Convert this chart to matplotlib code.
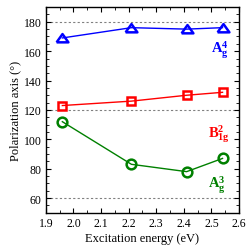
import matplotlib
matplotlib.use('Agg')
import matplotlib.pyplot as plt
from matplotlib.ticker import MultipleLocator

plt.rcParams['font.family'] = ['Liberation Serif', 'DejaVu Serif']
plt.rcParams['mathtext.fontset'] = 'custom'
plt.rcParams['mathtext.rm'] = 'Liberation Serif'
plt.rcParams['mathtext.bf'] = 'Liberation Serif:bold'

# excitation energies (eV)
energy = [1.96, 2.21, 2.41, 2.54]
# polarization axis angles (deg)
ag4 = [169, 176, 175, 176]
b1g2 = [123, 126, 130, 132]
ag3 = [112, 83, 78, 87]

fig = plt.figure(figsize=(2.53, 2.53), dpi=100)
ax = fig.add_axes([0.181, 0.155, 0.764, 0.813])

for y in [60, 120, 180]:
    ax.axhline(y, color='gray', ls=(0, (2, 2)), lw=0.8, zorder=0)

# flattened triangle like in the original figure
tri = [(-1, -0.65), (1, -0.65), (0, 0.75), (-1, -0.65)]

ax.plot(energy, ag4, color='blue', marker=tri, ms=8.5, mew=1.8,
        mfc='none', lw=1)
ax.plot(energy, b1g2, color='red', marker='s', ms=6, mew=1.8,
        mfc='none', lw=1)
ax.plot(energy, ag3, color='green', marker='o', ms=7, mew=1.8,
        mfc='none', lw=1)

ax.text(2.564, 161, r'$\mathbf{A_g^4}$', color='blue', fontsize=10.5,
        ha='right', va='center')
ax.text(2.568, 104, r'$\mathbf{B_{1g}^2}$', color='red', fontsize=10.5,
        ha='right', va='center')
ax.text(2.553, 69.5, r'$\mathbf{A_g^3}$', color='green', fontsize=10.5,
        ha='right', va='center')

ax.set_xlim(1.9, 2.6)
ax.set_ylim(50, 190)
ax.xaxis.set_major_locator(MultipleLocator(0.1))
ax.xaxis.set_minor_locator(MultipleLocator(0.05))
ax.yaxis.set_minor_locator(MultipleLocator(5))
ax.set_yticks([60, 80, 100, 120, 140, 160, 180])
ax.tick_params(which='both', direction='in', top=True, right=True,
               labelsize=8.5, pad=3)
ax.tick_params(which='major', length=3.5, width=0.8)
ax.tick_params(which='minor', length=2, width=0.6)
for s in ax.spines.values():
    s.set_linewidth(1)

ax.set_xlabel('Excitation energy (eV)', fontsize=9, labelpad=2)
ax.set_ylabel('Polarization axis (°)', fontsize=9, labelpad=2)

fig.savefig('out.png', dpi=100)
